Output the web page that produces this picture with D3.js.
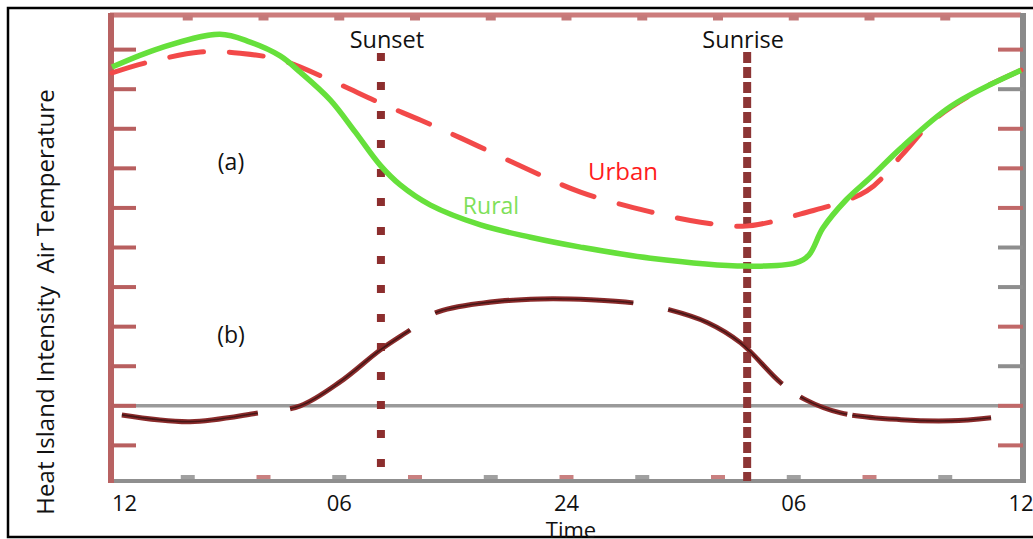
<!DOCTYPE html>
<html>
<head>
<meta charset="utf-8">
<script src="https://cdn.jsdelivr.net/npm/d3@7"></script>
<style>
  body { margin: 0; background: #fff; }
  text { font-family: "Open Sans", "Noto Sans", sans-serif; }
</style>
</head>
<body>
<svg id="chart" width="1033" height="539"></svg>
<script>
// hours run from noon (12) through midnight (24) to next noon (36)
let ruralHours = [12, 13.27, 14.85, 15.65, 16.44, 16.97, 17.76, 18.42, 19.08, 19.61, 20.41, 21.73, 23.05, 24.37, 26.22, 28.73, 30.05, 30.4, 30.77, 31.38, 32.04, 32.83, 34.15, 36];
let ruralTemp  = [9.56, 10.04, 10.39, 10.19, 9.84, 9.43, 8.73, 7.92, 7.08, 6.58, 6.07, 5.57, 5.26, 5.01, 4.73, 4.53, 4.61, 4.81, 5.49, 6.2, 6.78, 7.51, 8.57, 9.48];

let urbanHours = [12, 12.87, 14.33, 15.38, 16.44, 17.76, 19.08, 20.14, 21.2, 22.79, 24.37, 26.22, 27.54, 28.73, 30.19, 31.93, 32.86, 33.7, 34.81, 36];
let urbanTemp  = [9.41, 9.66, 9.94, 9.91, 9.74, 9.23, 8.65, 8.22, 7.77, 7.06, 6.4, 5.9, 5.64, 5.54, 5.85, 6.43, 7.34, 8.22, 8.93, 9.48];

let islandHours = [12.26, 14.06, 15.86, 16.97, 18.03, 19.08, 19.88, 20.54, 21.81, 23.31, 24.64, 25.77, 26.7, 27.73, 28.6, 29.66, 30.32, 31.24, 32.83, 34.15, 35.21];
let islandIntensity = [-0.23, -0.4, -0.18, 0, 0.61, 1.41, 1.92, 2.35, 2.6, 2.7, 2.68, 2.6, 2.43, 2.1, 1.59, 0.58, 0.15, -0.18, -0.35, -0.38, -0.3];
// breaks in the dashed intensity curve, [from, to] in hours
let islandGaps = [[15.85, 16.7], [19.87, 20.53], [25.76, 26.68], [29.69, 30.17], [31.41, 31.54]];

let xTickHours = [12, 14, 16, 18, 20, 22, 24, 26, 28, 30, 32, 34, 36];
let xLabelHours = [12, 18, 24, 30, 36];
let xLabels = ["12", "06", "24", "06", "12"];
let yTicks = d3.range(0, 11);
let rightTickColors = ["#c06868", "#c06868", "#8e8e8e", "#c06868", "#8e8e8e", "#8e8e8e", "#c06868", "#c06868", "#c06868", "#8e8e8e", "#c06868"];

let sunsetHour = 19.1;
let sunriseHour = 28.77;

let svg = d3.select("#chart");

let x = d3.scaleLinear().domain([12, 36]).range([112, 1021]);
let y = d3.scaleLinear().domain([-0.9, 10.9]).range([481, 14]);
// heat island intensity shares the same unit size, its zero sits on the grey baseline
let yHI = d3.scaleLinear().domain([-1.9, 9.9]).range([481, 14]);

let defs = svg.append("defs");
defs.append("filter").attr("id", "soft")
    .append("feGaussianBlur").attr("stdDeviation", 0.7);

// outer frame
svg.append("rect")
    .attr("x", 8).attr("y", 8)
    .attr("width", 1032).attr("height", 529)
    .attr("fill", "#fff")
    .attr("stroke", "#000")
    .attr("stroke-width", 2.5);

let g = svg.append("g").attr("filter", "url(#soft)");

// zero line of the intensity panel
g.append("line")
    .attr("x1", x(12)).attr("x2", x(36))
    .attr("y1", yHI(0)).attr("y2", yHI(0))
    .attr("stroke", "#9a9a9a")
    .attr("stroke-width", 3.5);

// frame axes
g.append("line")
    .attr("x1", x(12) - 2).attr("x2", x(36))
    .attr("y1", 15).attr("y2", 15)
    .attr("stroke", "#cc7b7b").attr("stroke-width", 5);

g.append("line")
    .attr("x1", x(12) - 2).attr("x2", x(36) + 2)
    .attr("y1", 481).attr("y2", 481)
    .attr("stroke", "#8f8f8f").attr("stroke-width", 4);

g.append("line")
    .attr("x1", 111).attr("x2", 111)
    .attr("y1", 13).attr("y2", 483)
    .attr("stroke", "#b86262").attr("stroke-width", 6);

g.append("line")
    .attr("x1", 1023).attr("x2", 1023)
    .attr("y1", 13).attr("y2", 483)
    .attr("stroke", "#8a8a8a").attr("stroke-width", 6);

// left ticks
g.selectAll(".ltick")
    .data(yTicks)
    .enter().append("line")
        .attr("class", "ltick")
        .attr("x1", 111).attr("x2", 136)
        .attr("y1", d => y(d)).attr("y2", d => y(d))
        .attr("stroke", "#b85e5e").attr("stroke-width", 4);

// right ticks
g.selectAll(".rtick")
    .data(yTicks)
    .enter().append("line")
        .attr("class", "rtick")
        .attr("x1", 998).attr("x2", 1023)
        .attr("y1", d => y(d)).attr("y2", d => y(d))
        .attr("stroke", (d, i) => rightTickColors[i]).attr("stroke-width", 4);

// top and bottom tick bumps
g.selectAll(".ttick")
    .data(xTickHours.slice(1, -1))
    .enter().append("line")
        .attr("class", "ttick")
        .attr("x1", d => x(d) - 5).attr("x2", d => x(d) + 5)
        .attr("y1", 18).attr("y2", 18)
        .attr("stroke", "#c47a7a").attr("stroke-width", 5);

g.selectAll(".btick")
    .data(xTickHours.slice(1, -1))
    .enter().append("line")
        .attr("class", "btick")
        .attr("x1", d => x(d) - 7).attr("x2", d => x(d) + 7)
        .attr("y1", 477).attr("y2", 477)
        .attr("stroke", (d, i) => i % 2 ? "#c98080" : "#a0a0a0").attr("stroke-width", 4);

// sunset / sunrise markers
g.append("line")
    .attr("x1", x(sunsetHour)).attr("x2", x(sunsetHour))
    .attr("y1", 53).attr("y2", 478)
    .attr("stroke", "#8c2f2f").attr("stroke-width", 8)
    .attr("stroke-dasharray", "8 21");

g.append("line")
    .attr("x1", x(sunriseHour)).attr("x2", x(sunriseHour))
    .attr("y1", 52).attr("y2", 481)
    .attr("stroke", "#8c3535").attr("stroke-width", 8)
    .attr("stroke-dasharray", "11 4");

let ruralLine = d3.line()
    .x((d, i) => x(ruralHours[i]))
    .y(d => y(d))
    .curve(d3.curveCatmullRom.alpha(0.5));

let urbanLine = d3.line()
    .x((d, i) => x(urbanHours[i]))
    .y(d => y(d))
    .curve(d3.curveCatmullRom.alpha(0.5));

let islandLine = d3.line()
    .x((d, i) => x(islandHours[i]))
    .y(d => yHI(d))
    .curve(d3.curveCatmullRom.alpha(0.5));

let island = g.append("path")
    .datum(islandIntensity)
    .attr("d", islandLine)
    .attr("fill", "none")
    .attr("stroke", "#8a2c2c")
    .attr("stroke-width", 5);

// turn the gap hours into a dash array along the path
let islandNode = island.node();
let total = islandNode.getTotalLength();
let lengthAt = (px) => {
    let lo = 0, hi = total;
    for (let k = 0; k < 30; k++) {
        let mid = (lo + hi) / 2;
        if (islandNode.getPointAtLength(mid).x < px) lo = mid; else hi = mid;
    }
    return lo;
};
let dashes = [];
let pos = 0;
islandGaps.forEach(gp => {
    let a = lengthAt(x(gp[0]));
    let b = lengthAt(x(gp[1]));
    dashes.push(a - pos, b - a);
    pos = b;
});
dashes.push(total - pos + 10, 10);
let islandDash = dashes.map(d => d.toFixed(1)).join(" ");
island.attr("stroke-dasharray", islandDash);

g.append("path")
    .datum(islandIntensity)
    .attr("d", islandLine)
    .attr("fill", "none")
    .attr("stroke", "#1a0a0a")
    .attr("stroke-width", 1.6)
    .attr("stroke-dasharray", islandDash)
    .attr("opacity", 0.6);

g.append("path")
    .datum(urbanTemp)
    .attr("d", urbanLine)
    .attr("fill", "none")
    .attr("stroke", "#f24a4a")
    .attr("stroke-width", 5)
    .attr("stroke-linecap", "round")
    .attr("stroke-dasharray", "34 26");

g.append("path")
    .datum(ruralTemp)
    .attr("d", ruralLine)
    .attr("fill", "none")
    .attr("stroke", "#66e03a")
    .attr("stroke-width", 5.5);

// texts
let txt = svg.append("g");

txt.selectAll(".xlab")
    .data(xLabels)
    .enter().append("text")
        .attr("class", "xlab")
        .attr("x", (d, i) => x(xLabelHours[i]))
        .attr("y", 511)
        .attr("text-anchor", (d, i) => i == 0 ? "start" : "middle")
        .attr("font-size", 22)
        .attr("fill", "#111")
        .text(d => d);

txt.append("text")
    .attr("x", 571).attr("y", 538)
    .attr("text-anchor", "middle")
    .attr("font-size", 22)
    .attr("fill", "#111")
    .text("Time");

txt.append("text")
    .attr("transform", "translate(54, 302) rotate(-90)")
    .attr("text-anchor", "middle")
    .attr("font-size", 24)
    .attr("fill", "#111")
    .attr("xml:space", "preserve")
    .text("Heat Island Intensity  Air Temperature");

txt.append("text")
    .attr("x", x(sunsetHour) + 6).attr("y", 48)
    .attr("text-anchor", "middle")
    .attr("font-size", 23.5)
    .attr("fill", "#111")
    .text("Sunset");

txt.append("text")
    .attr("x", x(sunriseHour) - 4).attr("y", 48)
    .attr("text-anchor", "middle")
    .attr("font-size", 23.5)
    .attr("fill", "#111")
    .text("Sunrise");

txt.append("text")
    .attr("x", 231).attr("y", 170)
    .attr("text-anchor", "middle")
    .attr("font-size", 23)
    .attr("fill", "#111")
    .text("(a)");

txt.append("text")
    .attr("x", 231).attr("y", 343)
    .attr("text-anchor", "middle")
    .attr("font-size", 23)
    .attr("fill", "#111")
    .text("(b)");

txt.append("text")
    .attr("x", 623).attr("y", 180)
    .attr("text-anchor", "middle")
    .attr("font-size", 24)
    .attr("fill", "#ff1c1c")
    .text("Urban");

txt.append("text")
    .attr("x", 491).attr("y", 214)
    .attr("text-anchor", "middle")
    .attr("font-size", 23)
    .attr("fill", "#7ee05a")
    .text("Rural");
</script>
</body>
</html>
